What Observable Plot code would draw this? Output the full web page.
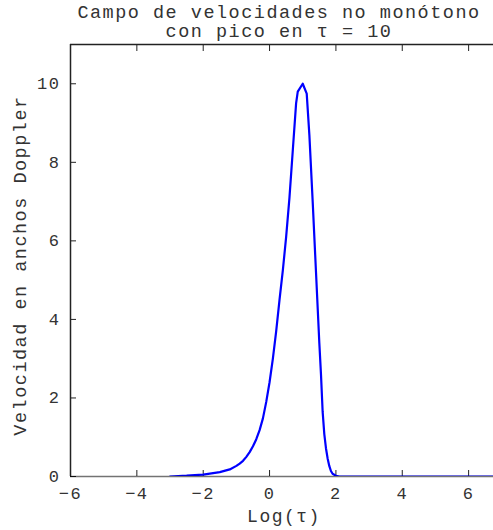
<!DOCTYPE html>
<html>
<head>
<meta charset="utf-8">
<script src="https://cdn.jsdelivr.net/npm/d3@7"></script>
<script src="https://cdn.jsdelivr.net/npm/@observablehq/plot@0.6"></script>
<style>
  html, body { margin: 0; padding: 0; background: #fff; }
</style>
</head>
<body>
<div id="chart"></div>
<script>
const titleLines = ["Campo de velocidades no monótono", "con pico en τ = 10"];
const xLabel = "Log(τ)";
const yLabel = "Velocidad en anchos Doppler";
const xTicks = [-6, -4, -2, 0, 2, 4, 6];
const yTicks = [0, 2, 4, 6, 8, 10];

const logTau = [-3.0, -2.5, -2.0, -1.5, -1.2, -1.0, -0.9, -0.8, -0.7, -0.6, -0.5, -0.4, -0.3, -0.2, -0.1, 0.0, 0.1, 0.2, 0.3, 0.4, 0.5, 0.6, 0.7, 0.8, 0.85, 1.0, 1.12, 1.2, 1.3, 1.4, 1.5, 1.55, 1.6, 1.65, 1.7, 1.75, 1.8, 1.85, 1.9, 2.0, 2.1, 3.0, 4.0, 5.0, 6.0, 7.0];
const velocity = [0.0, 0.02, 0.05, 0.11, 0.18, 0.27, 0.33, 0.40, 0.50, 0.62, 0.77, 0.95, 1.18, 1.48, 1.90, 2.40, 3.0, 3.7, 4.5, 5.25, 6.1, 7.1, 8.3, 9.5, 9.8, 10.0, 9.75, 8.7, 7.0, 5.2, 3.4, 2.6, 1.65, 1.08, 0.72, 0.46, 0.27, 0.14, 0.07, 0.02, 0.0, 0.0, 0.0, 0.0, 0.0, 0.0];

const data = logTau.map((x, i) => ({x, v: velocity[i]}));
const font = "Liberation Mono, Courier New, monospace";
const ink = "#222";
const textInk = "#333";

const plot = Plot.plot({
  width: 493,
  height: 530,
  marginTop: 44,
  marginBottom: 54,
  marginLeft: 70,
  marginRight: 0,
  style: {fontFamily: font, fontSize: "17px", color: ink, background: "#fff", overflow: "hidden", letterSpacing: "1.5px"},
  x: {domain: [-6, 6.75]},
  y: {domain: [0, 11]},
  marks: [
    Plot.axisX({ticks: xTicks, tickSize: -6, tickFormat: () => "", stroke: ink, strokeOpacity: 1, label: null}),
    Plot.axisX({anchor: "top", ticks: xTicks, tickSize: -6, tickFormat: () => "", stroke: ink, strokeOpacity: 1, label: null}),
    Plot.axisX({ticks: xTicks, tickSize: 0, tickPadding: 10, tickFormat: d => d < 0 ? "\u2212" + Math.abs(d) : String(d), fill: textInk, fontSize: 17, label: null}),
    Plot.axisY({ticks: yTicks, tickSize: -6, tickFormat: () => "", stroke: ink, strokeOpacity: 1, label: null}),
    Plot.axisY({ticks: yTicks, tickSize: 0, tickPadding: 10, fill: textInk, fontSize: 17, label: null}),
    Plot.line(data, {x: "x", y: "v", stroke: "#0000ff", strokeWidth: 2.2, strokeLinejoin: "round", clip: true}),
    Plot.ruleY([0], {stroke: "#000", strokeWidth: 1.5, strokeOpacity: 0.55}),
    Plot.ruleY([11], {stroke: ink, strokeWidth: 1.5}),
    Plot.ruleX([-6], {stroke: ink, strokeWidth: 1.5}),
    Plot.text([titleLines[0]], {frameAnchor: "top", text: d => d, dy: -27, dx: -3, lineAnchor: "bottom", fontSize: 18.5, fill: textInk}),
    Plot.text([titleLines[1]], {frameAnchor: "top", text: d => d, dy: -8, dx: -3, lineAnchor: "bottom", fontSize: 18.5, fill: textInk}),
    Plot.text([xLabel], {frameAnchor: "bottom", text: d => d, dy: 45, dx: 2, lineAnchor: "bottom", fontSize: 18, fill: textInk}),
    Plot.text([yLabel], {frameAnchor: "left", textAnchor: "middle", text: d => d, dx: -50, dy: 5, rotate: -90, fontSize: 18.5, fill: textInk})
  ]
});
document.getElementById("chart").appendChild(plot);
</script>
</body>
</html>
